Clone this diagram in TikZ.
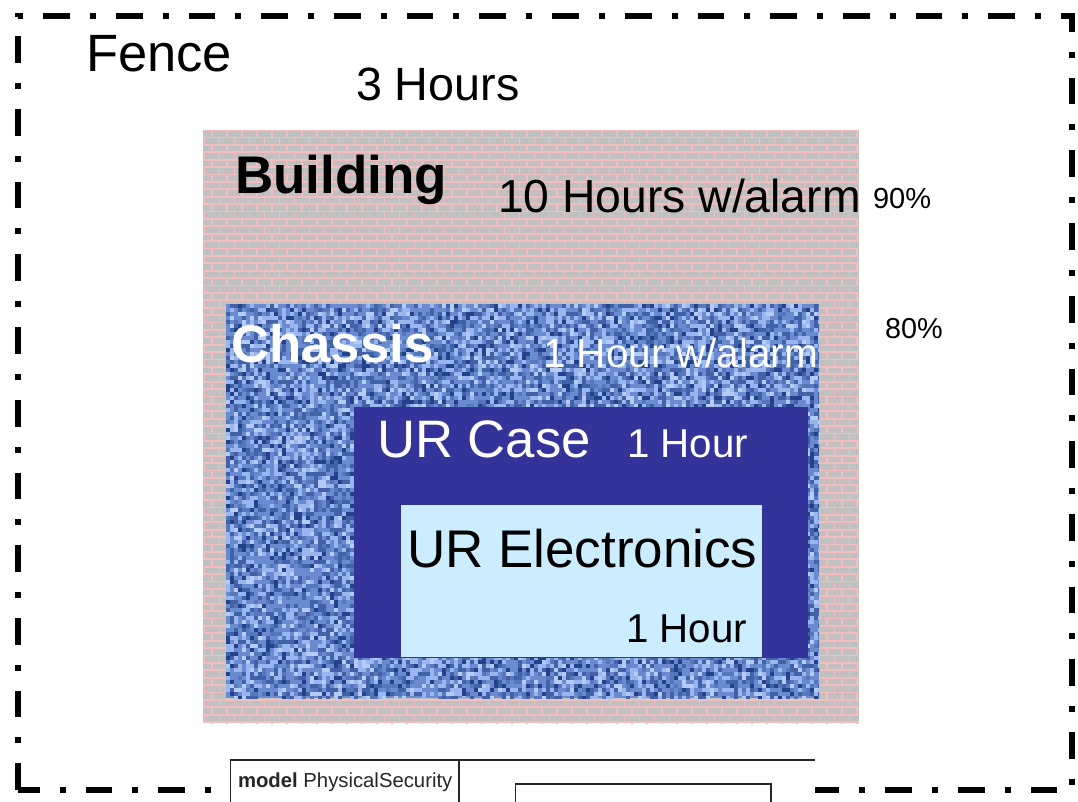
\documentclass[tikz,border=0pt]{standalone}
\usepackage{fontspec}
\setmainfont{Liberation Sans}
\definecolor{brickgray}{HTML}{C0C0C0}
\definecolor{mortar}{HTML}{F2BDBD}
\definecolor{caseblue}{HTML}{333399}
\definecolor{elecblue}{HTML}{CCECFF}
\definecolor{nbase}{HTML}{6A8BCF}
\definecolor{nlight}{HTML}{9AB6EE}
\definecolor{npale}{HTML}{B4CBF5}
\definecolor{ndark}{HTML}{4262A8}
\definecolor{nnavy}{HTML}{24428A}
\definecolor{nmid}{HTML}{5577BB}
\newcommand\fsz[1]{\fontsize{#1}{#1}\selectfont}
\tikzset{
  lbl/.style={anchor=base west, inner sep=0pt, outer sep=0pt},
  fenceline/.style={line width=6pt, dash pattern=on 26.7pt off 20pt on 6pt off 20pt, line join=miter},
  frameline/.style={line width=1.3pt, draw=black!85},
}
\begin{document}
\begin{tikzpicture}[x=1pt,y=-1pt]
\useasboundingbox (0,0) rectangle (1078,801);
\fill[white] (0,0) rectangle (1078,801);

% fence
\draw[fenceline] (17.5,790) -- (17.5,16) -- (1072,16) -- (1072,790) -- cycle;

% building: brick wall
\coordinate (bldNW) at (203,130);
\coordinate (bldSE) at (859,723);
\begin{scope}
  \clip (bldNW) rectangle (bldSE);
  \fill[brickgray] (bldNW) rectangle (bldSE);
  \foreach \k in {0,...,80}{
    \pgfmathsetmacro\yy{130+7.4*\k}
    \draw[mortar, line width=1.8pt] (203,\yy) -- (859,\yy);
    \pgfmathsetmacro\ph{mod(\k,2)==0 ? 0 : 7.5}
    \draw[mortar, line width=7.4pt, dash pattern=on 1.8pt off 13.2pt, dash phase=\ph pt]
      (196,\yy+3.7) -- (866,\yy+3.7);
  }
\end{scope}

% chassis: blue noise texture
\coordinate (chaNW) at (226,304);
\coordinate (chaSE) at (819,698);
\begin{scope}
  \clip (chaNW) rectangle (chaSE);
  \fill[nbase] (chaNW) rectangle (chaSE);
  \pgfmathsetseed{4711}
  \foreach \i in {0,...,148}{
    \foreach \j in {0,...,98}{
      \def\drawit{1}%
      \ifnum\i>31 \ifnum\i<145 \ifnum\j>25 \ifnum\j<88 \def\drawit{0}\fi\fi\fi\fi
      \ifnum\drawit=1
        \pgfmathrandominteger{\r}{0}{9}%
        \ifcase\r\relax
        \or
        \or
        \or \fill[nlight] ({226+4*\i},{304+4*\j}) rectangle +(4,4);
        \or \fill[nlight] ({226+4*\i},{304+4*\j}) rectangle +(4,4);
        \or \fill[ndark] ({226+4*\i},{304+4*\j}) rectangle +(4,4);
        \or \fill[ndark] ({226+4*\i},{304+4*\j}) rectangle +(4,4);
        \or \fill[nnavy] ({226+4*\i},{304+4*\j}) rectangle +(4,4);
        \or \fill[npale] ({226+4*\i},{304+4*\j}) rectangle +(4,4);
        \or \fill[nmid] ({226+4*\i},{304+4*\j}) rectangle +(4,4);
        \fi
      \fi
    }
  }
\end{scope}

% UR case and UR electronics
\fill[caseblue] (354,407) rectangle (808,658);
\fill[elecblue] (401,505) rectangle (762,657);

% labels
\node[lbl, font=\fsz{52.5}] (fence) at (86,71) {Fence};
\node[lbl, font=\fsz{46.7}] (fenceT) at (356,100) {3 Hours};
\node[lbl, font=\fsz{53}\bfseries] (bld) at (235,193) {Building};
\node[lbl, font=\fsz{46.3}] (bldT) at (498,212) {10 Hours w/alarm};
\node[lbl, font=\fsz{29}] (bldP) at (873,208) {90\%};
\node[lbl, font=\fsz{52.8}\bfseries, text=white] (cha) at (231,362) {Chassis};
\node[lbl, font=\fsz{40.6}, text=white] (chaT) at (543,367) {1 Hour w/alarm};
\node[lbl, font=\fsz{28.8}] (chaP) at (885,338) {80\%};
\node[lbl, font=\fsz{52.7}, text=white] (case) at (377,457) {UR Case};
\node[lbl, font=\fsz{40.3}, text=white] (caseT) at (627,457) {1 Hour};
\node[lbl, font=\fsz{53}] (elec) at (407,567) {UR Electronics};
\node[lbl, font=\fsz{40.3}] (elecT) at (626,642) {1 Hour};

% model frame along the bottom
\fill[white] (222,755) rectangle (815,801);
\draw[frameline] (230.5,760) rectangle (459,815);
\draw[frameline] (459,760) -- (815,760);
\draw[frameline] (515.5,784) rectangle (771,815);
\node[lbl, font=\fsz{20.3}, text=black!85] (model) at (238,787) {\textbf{model} PhysicalSecurity};
\end{tikzpicture}
\end{document}
